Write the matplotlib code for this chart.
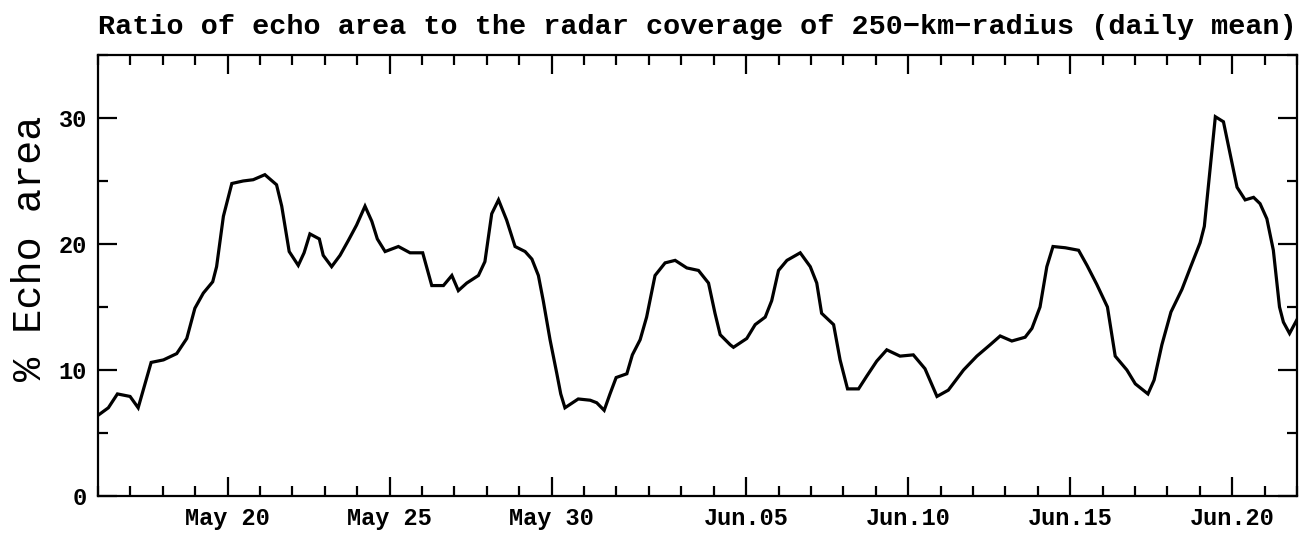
import numpy as np
import matplotlib
matplotlib.use("Agg")
import matplotlib.pyplot as plt
from matplotlib.ticker import MultipleLocator

# days since May 16 00:00
days = [0.00, 0.32, 0.60, 0.99, 1.24, 1.64, 2.02, 2.43, 2.74, 2.99, 3.25, 3.54, 3.66, 3.87,
        4.13, 4.48, 4.79, 5.15, 5.51, 5.67, 5.90, 6.18, 6.36, 6.54, 6.83, 6.95, 7.21, 7.47,
        7.73, 7.98, 8.24, 8.45, 8.62, 8.86, 9.27, 9.63, 10.02, 10.30, 10.66, 10.92, 11.12,
        11.38, 11.74, 11.94, 12.15, 12.36, 12.61, 12.87, 13.18, 13.39, 13.59, 13.74, 13.95,
        14.16, 14.28, 14.41, 14.82, 15.19, 15.39, 15.62, 15.80, 15.99, 16.32, 16.49, 16.73,
        16.93, 17.19, 17.50, 17.81, 18.17, 18.53, 18.84, 19.04, 19.20, 19.51, 19.61, 20.02,
        20.28, 20.59, 20.79, 21.00, 21.26, 21.67, 21.98, 22.18, 22.33, 22.70, 22.90, 23.13,
        23.47, 23.72, 24.03, 24.34, 24.75, 25.16, 25.52, 25.89, 26.24, 26.71, 27.12, 27.53,
        27.84, 28.20, 28.61, 28.82, 29.07, 29.28, 29.47, 29.85, 30.26, 30.52, 30.82, 31.15,
        31.39, 31.75, 32.01, 32.40, 32.59, 32.83, 33.11, 33.45, 33.72, 34.01, 34.14, 34.48,
        34.73, 35.15, 35.40, 35.66, 35.86, 36.07, 36.27, 36.46, 36.58, 36.77, 37.00]
echo = [6.4, 7.0, 8.1, 7.9, 7.0, 10.6, 10.8, 11.3, 12.5, 14.9, 16.1, 17.0, 18.2, 22.2,
        24.8, 25.0, 25.1, 25.5, 24.7, 23.0, 19.4, 18.3, 19.3, 20.8, 20.4, 19.1, 18.2, 19.1,
        20.3, 21.5, 23.0, 21.8, 20.4, 19.4, 19.8, 19.3, 19.3, 16.7, 16.7, 17.5, 16.3,
        16.9, 17.5, 18.6, 22.4, 23.5, 21.9, 19.8, 19.4, 18.8, 17.5, 15.5, 12.4,
        9.7, 8.1, 7.0, 7.7, 7.6, 7.4, 6.8, 8.1, 9.4, 9.7, 11.2, 12.4,
        14.2, 17.5, 18.5, 18.7, 18.1, 17.9, 16.9, 14.5, 12.8, 12.0, 11.8, 12.5,
        13.6, 14.2, 15.5, 17.9, 18.7, 19.3, 18.2, 16.9, 14.5, 13.6, 10.8, 8.5,
        8.5, 9.5, 10.7, 11.6, 11.1, 11.2, 10.1, 7.9, 8.4, 10.0, 11.1, 12.0,
        12.7, 12.3, 12.6, 13.3, 15.0, 18.2, 19.8, 19.7, 19.5, 18.3, 16.8, 15.0,
        11.1, 10.0, 8.9, 8.1, 9.2, 12.0, 14.6, 16.4, 18.2, 20.1, 21.4, 30.1,
        29.7, 24.5, 23.5, 23.7, 23.2, 22.0, 19.5, 15.0, 13.8, 12.9, 14.0]

tick_days = [4, 9, 14, 20, 25, 30, 35]
tick_labels = ["May 20", "May 25", "May 30", "Jun.05", "Jun.10", "Jun.15", "Jun.20"]

plt.rcParams["font.family"] = ["Liberation Mono", "DejaVu Sans Mono"]

fig = plt.figure(figsize=(13.03, 5.39), dpi=100)
ax = fig.add_axes([0.0752, 0.0798, 0.9202, 0.8182])

ax.plot(days, echo, color="black", linewidth=2.3, solid_joinstyle="miter")

ax.set_xlim(0, 37)
ax.set_ylim(0, 35)

ax.set_xticks(tick_days)
ax.set_xticklabels(tick_labels, fontsize=17, fontweight="bold")
ax.xaxis.set_minor_locator(MultipleLocator(1))
ax.yaxis.set_major_locator(MultipleLocator(10))
ax.yaxis.set_minor_locator(MultipleLocator(5))
for lab in ax.get_yticklabels():
    lab.set_fontsize(17)
    lab.set_fontweight("bold")

ax.tick_params(which="both", direction="in", top=True, right=True, width=1.6, color="black")
ax.tick_params(which="major", length=14)
ax.tick_params(axis="x", which="major", pad=8)
ax.tick_params(axis="y", which="major", pad=8)
ax.tick_params(which="minor", length=7)
for s in ax.spines.values():
    s.set_linewidth(1.6)

ax.set_ylabel("% Echo area", fontsize=29)
ax.yaxis.set_label_coords(-0.041, 0.562)
ax.set_title("Ratio of echo area to the radar coverage of 250\u2212km\u2212radius (daily mean)",
             fontsize=20.5, fontweight="bold", pad=15)

fig.savefig("out.png", dpi=100)
